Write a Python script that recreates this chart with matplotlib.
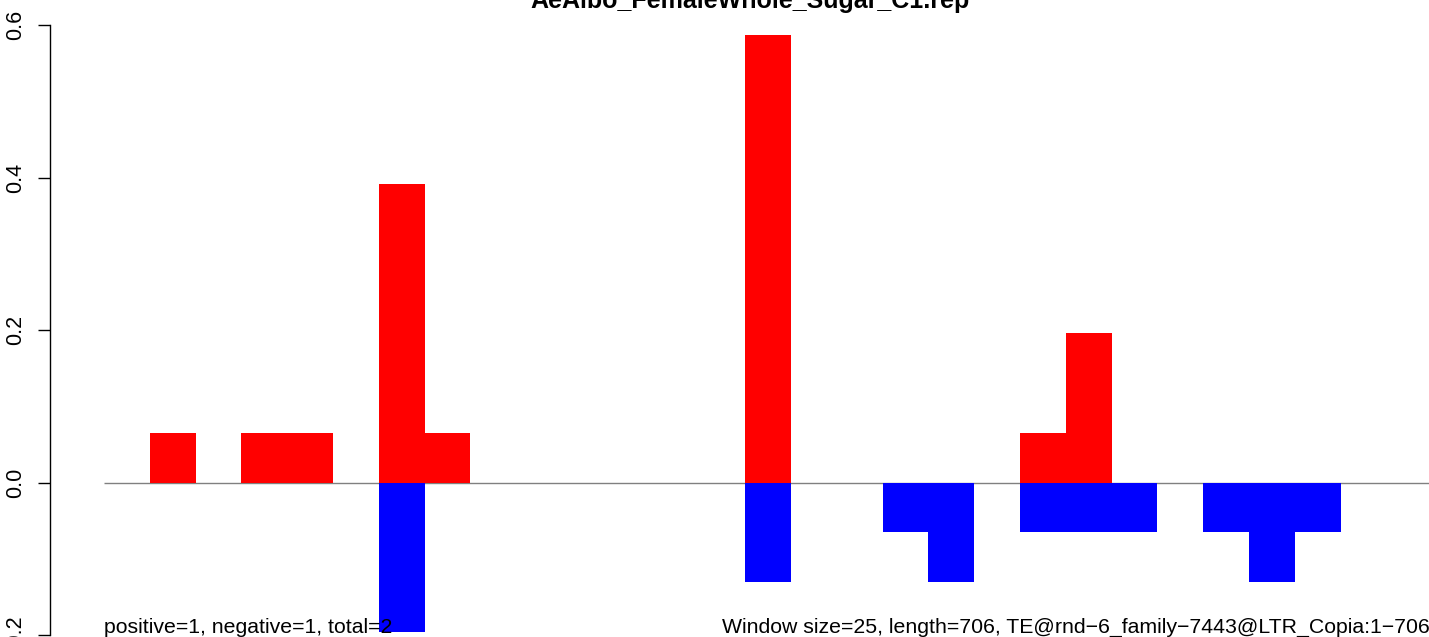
import numpy as np
import matplotlib.pyplot as plt

plt.rcParams['font.family'] = ['Liberation Sans', 'DejaVu Sans']

# datos: ventanas de 25 pb (29 ventanas)
unidad = 0.0652
n_ventanas = 29
pos_idx = [1, 3, 4, 6, 7, 14, 20, 21]
pos_cnt = [1, 1, 1, 6, 1, 9, 1, 3]
neg_idx = [6, 14, 17, 18, 20, 21, 22, 24, 25, 26]
neg_cnt = [3, 2, 1, 2, 1, 1, 1, 1, 2, 1]

titulo = "AeAlbo_FemaleWhole_Sugar_C1.rep"
texto_izq = "positive=1, negative=1, total=2"
texto_der = "Window size=25, length=706, TE@rnd\u22126_family\u22127443@LTR_Copia:1\u2212706"

positivos = np.zeros(n_ventanas)
negativos = np.zeros(n_ventanas)
positivos[pos_idx] = np.array(pos_cnt) * unidad
negativos[neg_idx] = -np.array(neg_cnt) * unidad

ancho = 45.8  # px por ventana
fig = plt.figure(figsize=(14.29, 6.37), dpi=100)
ax = fig.add_axes([50 / 1429, 0, 1 - 50 / 1429, 1])

x = np.arange(n_ventanas)
ax.hlines(0, 0, n_ventanas, color="gray", lw=1, zorder=1)
ax.bar(x, positivos, width=1, align="edge", color="red", zorder=2)
ax.bar(x, negativos, width=1, align="edge", color="blue", zorder=2)

ax.set_xlim(-54 / ancho, (1429 - 104) / ancho)
ax.set_ylim(-(637 - 482.7) / 762.8, 0.6 + 25 / 762.8)

for s in ["top", "right", "bottom"]:
    ax.spines[s].set_visible(False)
ax.spines["left"].set_bounds(-0.2, 0.6)
ax.spines["left"].set_linewidth(1)
ax.set_xticks([])
ax.set_yticks([-0.2, 0.0, 0.2, 0.4, 0.6])
ax.set_yticklabels(["\u22120.2", "0.0", "0.2", "0.4", "0.6"], rotation=90,
                   va="center", fontsize=15.5)
ax.tick_params(axis="y", length=9, width=1, pad=8)

ax.text(0, -0.197, texto_izq, fontsize=15.3, ha="left", va="baseline", zorder=3)
ax.text((722 - 104) / ancho, -0.197, texto_der, fontsize=15.3, ha="left",
        va="baseline", zorder=3)
ax.text((750 - 104) / ancho, 0.6 + 17 / 762.8, titulo, fontsize=18,
        fontweight="bold", ha="center", va="baseline")

fig.savefig("out.png", dpi=100)
